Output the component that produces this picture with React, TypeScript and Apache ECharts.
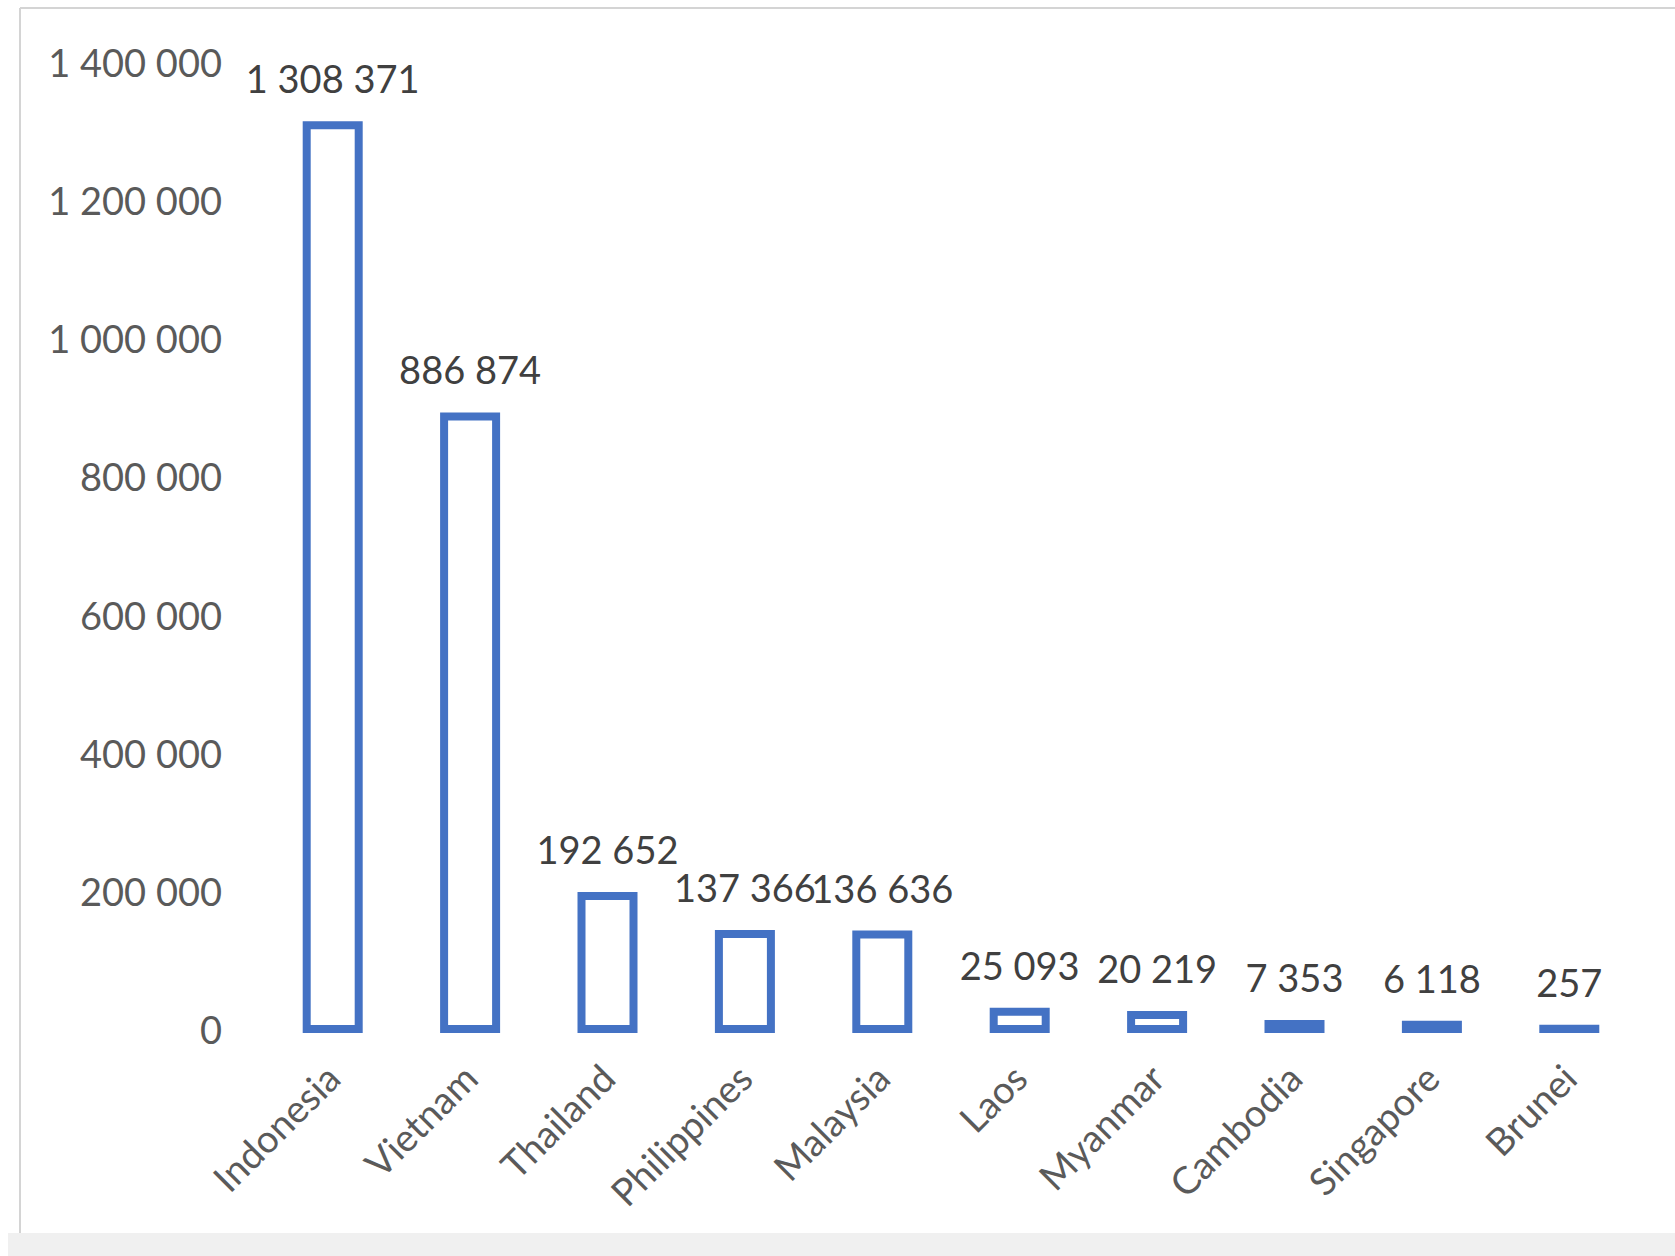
import React, { useEffect, useRef } from "react";
import * as echarts from "echarts";

const countries = ["Indonesia", "Vietnam", "Thailand", "Philippines", "Malaysia", "Laos", "Myanmar", "Cambodia", "Singapore", "Brunei"];
const values = [1308371, 886874, 192652, 137366, 136636, 25093, 20219, 7353, 6118, 257];
const yTicks = [0, 200000, 400000, 600000, 800000, 1000000, 1200000, 1400000];

const fmt = (v: number) => String(Math.round(v)).replace(/\B(?=(\d{3})+(?!\d))/g, " ");

export default function App() {
  const ref = useRef<HTMLDivElement>(null);
  useEffect(() => {
    if (!ref.current) return;
    const chart = echarts.init(ref.current, null, { renderer: "svg" });
    const font = "Lato, 'Open Sans', sans-serif";
    const barW = 52;
    const stroke = 8;
    chart.setOption({
      animation: false,
      backgroundColor: "#ffffff",
      graphic: [
        { type: "line", shape: { x1: 20, y1: 8, x2: 1675, y2: 8 }, style: { stroke: "#d4d4d4", lineWidth: 2 } },
        { type: "line", shape: { x1: 20, y1: 8, x2: 20, y2: 1233 }, style: { stroke: "#d4d4d4", lineWidth: 2 } },
        { type: "rect", shape: { x: 8, y: 1233, width: 1667, height: 23 }, style: { fill: "#f0f0f0" } },
      ],
      grid: { left: 264, right: 37, top: 62, bottom: 227, containLabel: false },
      xAxis: {
        type: "category",
        data: countries,
        axisLine: { show: false },
        axisTick: { show: false },
        axisLabel: { rotate: 45, margin: 42, fontSize: 38, color: "#5a5a5a", fontFamily: font, interval: 0 },
      },
      yAxis: {
        type: "value",
        min: yTicks[0],
        max: yTicks[yTicks.length - 1],
        interval: yTicks[1] - yTicks[0],
        splitLine: { show: false },
        axisLine: { show: false },
        axisTick: { show: false },
        axisLabel: {
          margin: 42,
          fontSize: 38,
          color: "#5a5a5a",
          fontFamily: font,
          formatter: (v: number) => fmt(v),
        },
      },
      series: [
        {
          type: "custom",
          data: values.map((v, i) => [i, v]),
          encode: { x: 0, y: 1 },
          renderItem: (params: any, api: any) => {
            const i = api.value(0);
            const v = api.value(1);
            const top = api.coord([i, v]);
            const base = api.coord([i, 0]);
            return {
              type: "group",
              children: [
                {
                  type: "rect",
                  shape: { x: top[0] - barW / 2, y: top[1], width: barW, height: base[1] - top[1] },
                  style: { fill: "#ffffff", stroke: "#4472C4", lineWidth: stroke },
                },
                {
                  type: "text",
                  style: {
                    text: fmt(v),
                    x: top[0],
                    y: top[1] - stroke / 2 - 24,
                    align: "center",
                    verticalAlign: "bottom",
                    fontSize: 38,
                    fontFamily: font,
                    fill: "#404040",
                  },
                },
              ],
            };
          },
        },
      ],
    });
    return () => chart.dispose();
  }, []);
  return <div ref={ref} style={{ position: "absolute", left: 0, top: 0, width: 1675, height: 1256 }} />;
}
